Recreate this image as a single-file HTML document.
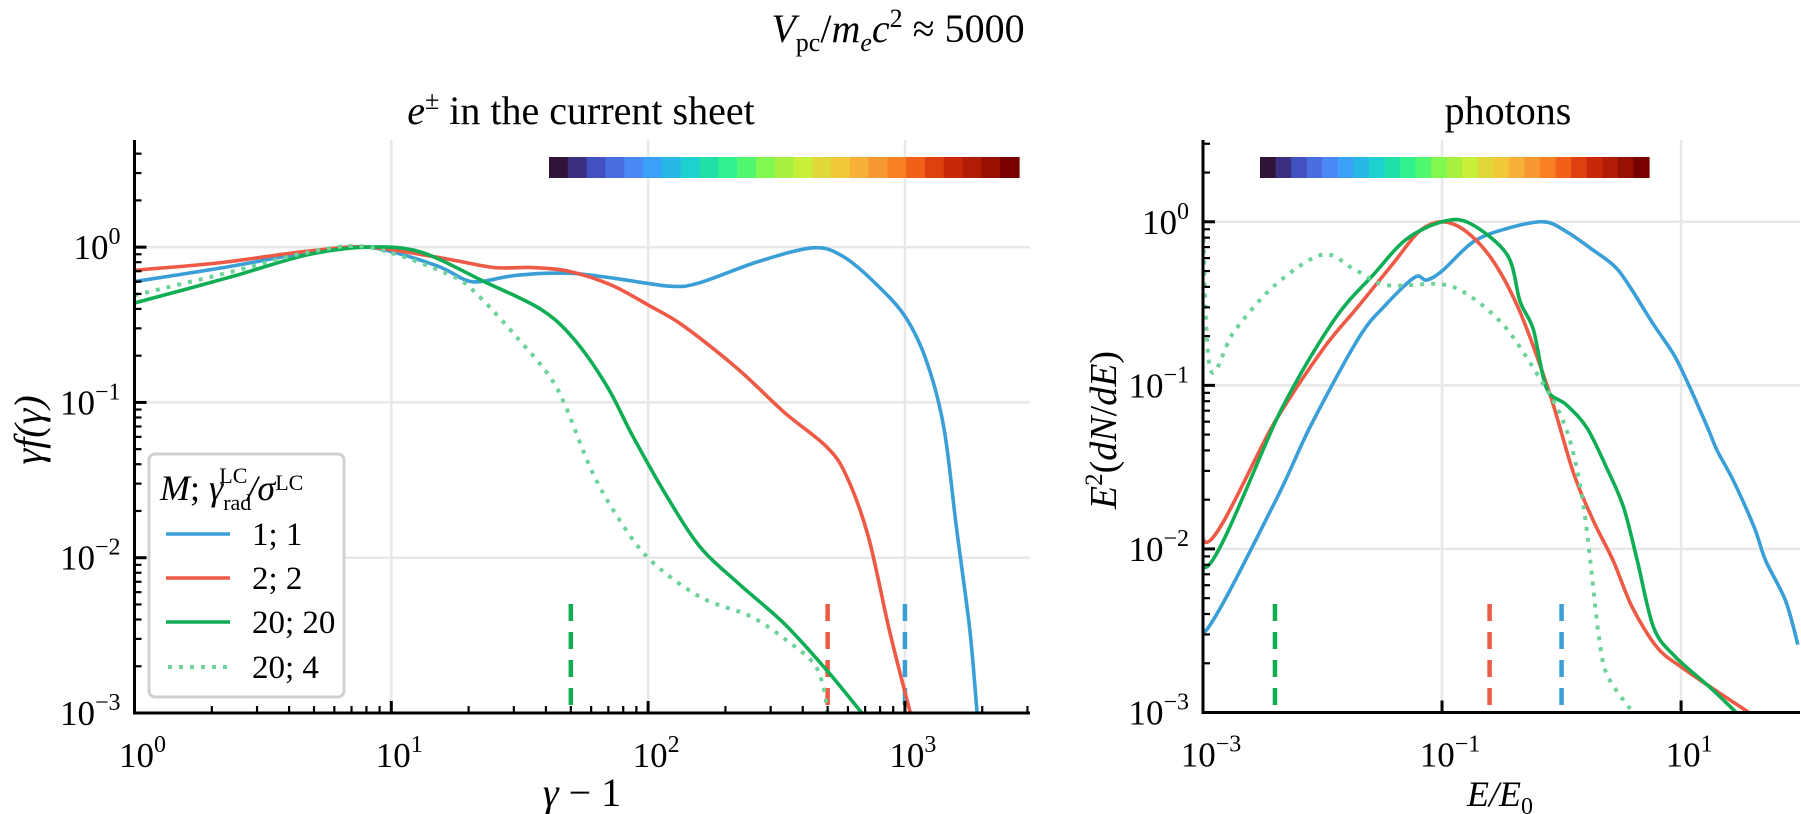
<!DOCTYPE html>
<html><head><meta charset="utf-8"><style>
html,body{margin:0;padding:0;background:#fff;}
svg, svg text{font-family:"Liberation Serif","DejaVu Serif",serif;}
</style></head><body>
<svg id="chart" width="1801" height="814" viewBox="0 0 1801 814" xmlns="http://www.w3.org/2000/svg" style="display:block;font-family:'Liberation Serif','DejaVu Serif',serif">
<text x="898" y="42" text-anchor="middle" font-size="40"><tspan font-style="italic">V</tspan><tspan font-size="26" dy="9">pc</tspan><tspan dy="-9">/</tspan><tspan font-style="italic">m</tspan><tspan font-size="26" font-style="italic" dy="9">e</tspan><tspan font-style="italic" dy="-9">c</tspan><tspan font-size="26" dy="-15">2</tspan><tspan dy="15"> ≈ 5000</tspan></text>
<text x="581" y="124" text-anchor="middle" font-size="40"><tspan font-style="italic">e</tspan><tspan font-size="26" dy="-15">±</tspan><tspan dy="15"> in the current sheet</tspan></text>
<text x="1508" y="124" text-anchor="middle" font-size="40">photons</text>
<g id="left"></g>
<g id="right"></g>
<text x="582" y="806" text-anchor="middle" font-size="40"><tspan font-style="italic">γ</tspan> − 1</text>
<text transform="translate(42,430) rotate(-90)" text-anchor="middle" font-size="40" font-style="italic">γf(γ)</text>
<text x="1500" y="806" text-anchor="middle" font-size="36"><tspan font-style="italic">E/E</tspan><tspan font-size="24" dy="8">0</tspan></text>
<text transform="translate(1116,430) rotate(-90)" text-anchor="middle" font-size="38"><tspan font-style="italic">E</tspan><tspan font-size="25" dy="-14">2</tspan><tspan dy="14">(</tspan><tspan font-style="italic">dN</tspan>/<tspan font-style="italic">dE</tspan>)</text>
<g>
<rect x="149" y="454" width="195" height="243" rx="6" fill="#fff" stroke="#d0d0d0" stroke-width="3"/>
<text x="160" y="500" font-size="36"><tspan font-style="italic">M</tspan>; <tspan font-style="italic">γ</tspan><tspan font-size="22" dy="10">rad</tspan><tspan font-size="22" dx="-32" dy="-27">LC</tspan><tspan dy="17" font-style="italic">/σ</tspan><tspan font-size="22" dy="-10">LC</tspan></text>
<line x1="166" x2="230" y1="534" y2="534" stroke="#3a9fd6" stroke-width="3.6"/>
<text x="252" y="545" font-size="33">1; 1</text>
<line x1="166" x2="230" y1="578" y2="578" stroke="#ee5a45" stroke-width="3.6"/>
<text x="252" y="589" font-size="33">2; 2</text>
<line x1="166" x2="230" y1="622" y2="622" stroke="#0fae55" stroke-width="3.6"/>
<text x="252" y="633" font-size="33">20; 20</text>
<line x1="168" x2="230" y1="667" y2="667" stroke="#6ed39a" stroke-width="4" stroke-dasharray="4 7"/>
<text x="252" y="678" font-size="33">20; 4</text>
</g>
</svg>
<script>
// ---- data: left panel (gamma-1, gamma f(gamma)) ----
const leftBlueX=[1,2.35,4.67,8.1,14.7,19.2,22.3,31,49,74,122,159,270,440,575,780,1010,1220,1420,1590,1790,1910];
const leftBlueY=[0.6,0.75,0.92,1.0,0.77,0.62,0.6,0.66,0.68,0.63,0.56,0.59,0.81,0.99,0.87,0.57,0.35,0.18,0.068,0.0152,0.0034,0.001];
const leftRedX=[1,2.1,4.67,8.1,15.8,25,35,49,72,101,136,223,337,494,590,720,870,1050];
const leftRedY=[0.71,0.79,0.94,1.0,0.85,0.74,0.74,0.70,0.57,0.42,0.315,0.165,0.087,0.052,0.034,0.0137,0.0034,0.001];
const leftGreenX=[1,2.35,4.67,8.1,13,23,38,51,69,87,118,159,223,337,494,680];
const leftGreenY=[0.437,0.64,0.89,1.0,0.93,0.6,0.4,0.26,0.128,0.061,0.025,0.0118,0.0069,0.0038,0.0019,0.001];
const leftDotX=[1,2.35,4.67,8.1,17,22.3,31,41,47.5,60,75,101,159,250,350,440,480,500];
const leftDotY=[0.49,0.69,0.92,1.0,0.66,0.47,0.26,0.15,0.096,0.037,0.019,0.0098,0.0056,0.0042,0.0029,0.0021,0.0015,0.001];
const leftMarkers=[50,500,1000];
// ---- data: right panel (E/E0, E^2 dN/dE) ----
const rightBlueX=[0.001,0.00103,0.00395,0.0079,0.02,0.033,0.059,0.074,0.1,0.183,0.35,0.71,1.1,1.74,2.7,3.5,5.9,8.7,11.2,16.7,20,27.5,41,51,75,95];
const rightBlueY=[0.0077,0.0031,0.019,0.056,0.194,0.305,0.458,0.44,0.5,0.755,0.91,1.0,0.87,0.69,0.545,0.43,0.235,0.154,0.106,0.055,0.04,0.026,0.0135,0.0085,0.0048,0.0026];
const rightRedX=[0.001,0.00105,0.00395,0.01,0.02,0.04,0.064,0.1,0.16,0.27,0.45,0.8,1.26,1.85,2.7,3.9,6.3,10,17.9,37];
const rightRedY=[0.09,0.011,0.059,0.165,0.305,0.57,0.87,1.0,0.87,0.57,0.28,0.088,0.029,0.0148,0.0085,0.0044,0.0025,0.0019,0.00142,0.001];
const rightGreenX=[0.001,0.00103,0.0046,0.0126,0.027,0.05,0.1,0.17,0.35,0.45,0.58,0.75,1.1,1.63,2.4,3.3,4.3,5.9,8.9,17.9,29];
const rightGreenY=[0.09,0.0077,0.073,0.253,0.48,0.78,1.0,0.98,0.63,0.325,0.22,0.096,0.076,0.055,0.031,0.018,0.0085,0.0033,0.0022,0.0014,0.001];
const rightDotX=[0.001,0.00115,0.00183,0.004,0.01,0.0186,0.034,0.1,0.183,0.35,0.66,0.98,1.26,1.53,1.74,2.04,2.4,3.75];
const rightDotY=[0.92,0.126,0.215,0.41,0.63,0.51,0.41,0.415,0.34,0.22,0.11,0.066,0.038,0.018,0.0085,0.003,0.0017,0.00105];
const rightMarkers=[0.004,0.25,1.0];
const colorbarColors=["#2f1438","#3b2f80","#4350c0","#4a6ee0","#4a88f8","#3aa0f8","#28b8e8","#1ed0d0","#20e0a8","#30f090","#50f870","#80f850","#a8f040","#c8f038","#e0d838","#f0c838","#f8b038","#f89830","#f88020","#f06018","#e04010","#c82808","#b01c04","#981000","#780000"];

const NS="http://www.w3.org/2000/svg";
const BLUE="#3a9fd6",RED="#ee5a45",GREEN="#0fae55",LGREEN="#6ed39a";
function mk(tag,parent,attrs){const e=document.createElementNS(NS,tag);for(const k in attrs)e.setAttribute(k,attrs[k]);parent.appendChild(e);return e;}
function logScale(v0,p0,v1,p1){const a=Math.log10(v0),b=Math.log10(v1);return v=>p0+(Math.log10(v)-a)/(b-a)*(p1-p0);}
function smoothPath(pts){
  let d="M"+pts[0][0].toFixed(1)+","+pts[0][1].toFixed(1);
  for(let i=0;i<pts.length-1;i++){
    const p0=pts[i-1]||pts[i],p1=pts[i],p2=pts[i+1],p3=pts[i+2]||p2;
    const t=0.16;
    const c1=[p1[0]+(p2[0]-p0[0])*t,p1[1]+(p2[1]-p0[1])*t];
    const c2=[p2[0]-(p3[0]-p1[0])*t,p2[1]-(p3[1]-p1[1])*t];
    d+="C"+c1[0].toFixed(1)+","+c1[1].toFixed(1)+" "+c2[0].toFixed(1)+","+c2[1].toFixed(1)+" "+p2[0].toFixed(1)+","+p2[1].toFixed(1);
  }
  return d;
}
function supLabel(g,x,y,exp,anchor){
  const t=mk("text",g,{x:x,y:y,"text-anchor":anchor,"font-size":"35"});
  
  
  const a=mk("tspan",t,{});a.textContent="10";
  const b=mk("tspan",t,{"font-size":"24",dy:"-15"});b.textContent=exp;
  return t;
}
function panel(g,o){
  const X=logScale(o.xmin,o.x0,o.xmax,o.x1), Y=logScale(o.ymin,o.y1,o.ymax,o.y0);
  const clipId=o.id+"-clip";
  const cp=mk("clipPath",g,{id:clipId});mk("rect",cp,{x:o.x0,y:o.y0-5,width:o.x1-o.x0,height:o.y1-o.y0+5});
  o.xMajor.forEach(v=>{const l=mk("line",g,{x1:X(v),x2:X(v),y1:o.y0,y2:o.y1,stroke:"#e8e8e8","stroke-width":2.5});});
  o.yMajor.forEach(v=>{const l=mk("line",g,{x1:o.x0,x2:o.x1,y1:Y(v),y2:Y(v),stroke:"#e8e8e8","stroke-width":2.5});});
  const cw=(o.cb1-o.cb0)/colorbarColors.length;
  colorbarColors.forEach((c,i)=>{const r=mk("rect",g,{x:o.cb0+i*cw,y:157,width:cw+0.6,height:21,fill:c});});
  const cols=[GREEN,RED,BLUE];
  o.markers.forEach((v,i)=>{const l=mk("line",g,{x1:X(v),x2:X(v),y1:o.mTop,y2:o.y1,stroke:cols[i],"stroke-width":4.5,"stroke-dasharray":"17 11"});});
  const cg=mk("g",g,{"clip-path":"url(#"+clipId+")"});
  o.series.forEach(s=>{
    const pts=s.x.map((v,i)=>[X(v),Y(s.y[i])]);
    const p=mk("path",cg,{d:smoothPath(pts),fill:"none",stroke:s.c,"stroke-width":3.6,"stroke-linejoin":"round"});
    if(s.dot){p.setAttribute("stroke-dasharray","4 7");p.setAttribute("stroke-width","4");}
    
    
  });
  const sp=mk("path",g,{d:`M${o.x0},${o.y0}V${o.y1}H${o.x1}`,fill:"none",stroke:"#000","stroke-width":3});
  
  const ly=Math.floor(Math.log10(o.ymin)),hy=Math.ceil(Math.log10(o.ymax));
  for(let e=ly;e<=hy;e++)for(let m=1;m<10;m++){const v=m*Math.pow(10,e);if(v<o.ymin||v>o.ymax)continue;const y=Y(v);
    const t=mk("line",g,{x1:o.x0,x2:o.x0+(m==1?12:7),y1:y,y2:y,stroke:"#000","stroke-width":m==1?3:2.2});}
  o.yMajor.forEach((v,i)=>supLabel(g,o.x0-14,Y(v)+12,o.yLabels[i],"end"));
  o.xTicks.forEach(v=>{const t=mk("line",g,{x1:X(v),x2:X(v),y1:o.y1,y2:o.y1-(o.xMajor.includes(v)?12:7),stroke:"#000","stroke-width":o.xMajor.includes(v)?3:2.2});});
  o.xMajor.forEach((v,i)=>supLabel(g,X(v)+8,o.y1+54,o.xLabels[i],"middle"));
  return {X,Y};
}
const L=document.getElementById("left"),R=document.getElementById("right");
function minorTicks(a,b){const r=[];for(let e=Math.floor(Math.log10(a));e<=Math.ceil(Math.log10(b));e++)for(let m=1;m<10;m++){const v=m*Math.pow(10,e);if(v>=a*0.999&&v<=b)r.push(v);}return r;}
panel(L,{id:"left",x0:134.5,x1:1030,y0:140,y1:713,xmin:1,xmax:Math.pow(10,3.487),ymin:1e-3,ymax:Math.pow(10,0.69),
  xMajor:[1,10,100,1000],xLabels:["0","1","2","3"],yMajor:[1,0.1,0.01,0.001],yLabels:["0","−1","−2","−3"],
  xTicks:minorTicks(1,3000),cb0:549,cb1:1019,markers:leftMarkers,mTop:604,
  series:[{x:leftBlueX,y:leftBlueY,c:BLUE,name:"series-1-1"},{x:leftRedX,y:leftRedY,c:RED,name:"series-2-2"},{x:leftGreenX,y:leftGreenY,c:GREEN,name:"series-20-20"},{x:leftDotX,y:leftDotY,c:LGREEN,dot:true,name:"series-20-4"}]});
panel(R,{id:"right",x0:1203,x1:1800,y0:140,y1:712.5,xmin:1e-3,xmax:Math.pow(10,1.995),ymin:1e-3,ymax:Math.pow(10,0.5),
  xMajor:[0.001,0.1,10],xLabels:["−3","−1","1"],yMajor:[1,0.1,0.01,0.001],yLabels:["0","−1","−2","−3"],
  xTicks:[0.001,0.1,10],cb0:1260,cb1:1649,markers:rightMarkers,mTop:604,
  series:[{x:rightBlueX,y:rightBlueY,c:BLUE,name:"photon-series-1-1"},{x:rightRedX,y:rightRedY,c:RED,name:"photon-series-2-2"},{x:rightGreenX,y:rightGreenY,c:GREEN,name:"photon-series-20-20"},{x:rightDotX,y:rightDotY,c:LGREEN,dot:true,name:"photon-series-20-4"}]});
</script>
</body></html>
